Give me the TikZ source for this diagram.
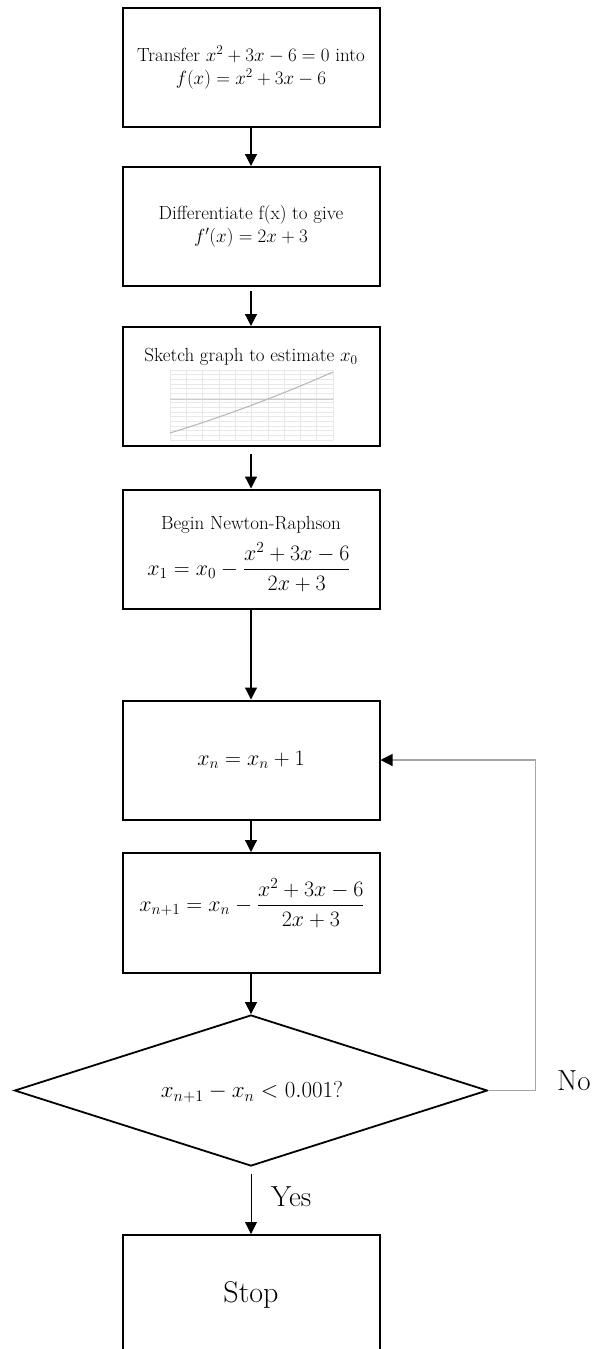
\RequirePackage{fix-cm}
\documentclass[tikz,border=0pt]{standalone}
\usepackage{amsmath}
\usetikzlibrary{arrows.meta,shapes.geometric}
\tikzset{
  box/.style={draw, line width=2pt, minimum width=257pt, minimum height=119pt, inner sep=0pt, align=center, font=\fontsize{19}{23}\selectfont},
  txt/.style={inner sep=0pt, align=center, font=\fontsize{19}{23}\selectfont},
  mtxt/.style={inner sep=0pt, align=center, font=\fontsize{22}{26}\selectfont},
  lab/.style={inner sep=0pt, font=\fontsize{29}{34}\selectfont},
  arr/.style={-{Triangle[width=12pt,length=12pt]}, line width=1.2pt},
  loopline/.style={draw=gray!70, line width=1.1pt, -{Triangle[width=12pt,length=12pt,color=black]}},
  gridc/.style={draw=gray!18, line width=0.5pt},
}
\begin{document}
\begin{tikzpicture}[x=1pt,y=-1pt]
\clip (0,0) rectangle (597,1349);
\fill[white] (0,0) rectangle (597,1349);

% boxes
\node[box] (b1) at (251,67.5) {Transfer $x^2+3x-6=0$ into\\ $f(x)=x^2+3x-6$};
\node[box] (b2) at (251,226.5) {Differentiate f(x) to give\\ $f'(x)=2x+3$};
\node[box] (b3) at (251,386.5) {};
\node[txt] (t3) at (251,357) {Sketch graph to estimate $x_0$};

% small chart in box 3
\foreach \i in {0,...,10} \draw[gridc] ({170+16.3*\i},370) -- ({170+16.3*\i},440);
\foreach \j in {0,...,15} \draw[gridc] (170,{370+70*\j/15}) -- (333,{370+70*\j/15});
\draw[gray!40, line width=0.6pt] (170,399) -- (333,399);
\draw[gray!55, line width=1.1pt, domain=0:1, samples=40] plot ({170+163*\x}, {433-61*(0.82*\x+0.18*\x*\x)});

\node[box] (b4) at (251,549) {};
\node[txt] (t4a) at (251,525) {Begin Newton-Raphson};
\node[mtxt] (t4b) at (249,567) {$x_1=x_0-\dfrac{x^2+3x-6}{2x+3}$};

\node[box, font=\fontsize{22}{26}\selectfont] (b5) at (251,760) {$x_n=x_n+1$};
\node[box, minimum height=120pt] (b6) at (251,913) {};
\node[mtxt] (t6) at (252,903) {$x_{n+1}=x_n-\dfrac{x^2+3x-6}{2x+3}$};

% decision
\node[diamond, draw, line width=1.8pt, minimum width=473pt, minimum height=151pt, inner sep=0pt] (d) at (251,1090.5) {};
\node[inner sep=0pt, font=\fontsize{23}{27}\selectfont] (dt) at (252,1092) {$x_{n+1}-x_n<0.001$?};

% stop
\node[box, minimum height=120pt, font=\fontsize{30}{36}\selectfont] (s) at (251,1295) {Stop};

% connectors
\draw[arr] (b1.south) -- (b2.north);
\draw[arr, shorten <=4pt] (b2.south) -- (b3.north);
\draw[arr, shorten <=7pt] (b3.south) -- (b4.north);
\draw[arr] (b4.south) -- (b5.north);
\draw[arr] (b5.south) -- (b6.north);
\draw[arr] (b6.south) -- (d.north);
\draw[arr, line width=0.9pt, shorten <=7pt] (d.south) -- (s.north);
\draw[loopline] (d.east) -- ++(47.5,0) |- (b5.east);

% labels
\node[lab, anchor=west] (yes) at (271,1197) {Yes};
\node[lab, anchor=base west] (no) at (557,1090) {No};
\end{tikzpicture}
\end{document}
